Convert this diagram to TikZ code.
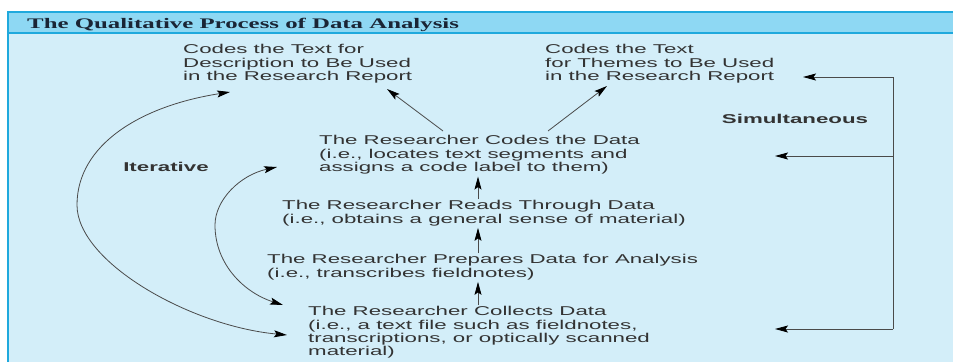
\documentclass[tikz,border=0pt]{standalone}
\usepackage{fontspec}
\setmainfont{Liberation Sans}[FakeStretch=1.74]
\newfontfamily\titlefont{Liberation Serif}[FakeStretch=1.70]
\usetikzlibrary{arrows.meta,calc}
\definecolor{titlebar}{HTML}{8ED8F3}
\definecolor{bodybg}{HTML}{D3EEF9}
\definecolor{border}{HTML}{1FA9DD}
\definecolor{titletext}{HTML}{1A2535}
\definecolor{bodytext}{HTML}{333333}
\definecolor{linec}{HTML}{4A4A4A}
\tikzset{
  txt/.style={anchor=west, align=left, inner sep=0pt, text=bodytext,
    font=\fontsize{12.8}{13.4}\selectfont},
  lbl/.style={anchor=center, inner sep=0pt, text=bodytext,
    font=\fontsize{12.8}{13.4}\selectfont\bfseries},
  tip/.tip={Stealth[length=13pt,width=7pt,inset=2.5pt,color=black]},
  arr/.style={draw=linec, line width=0.8pt, -tip},
  darr/.style={draw=linec, line width=0.8pt, tip-tip},
}
\begin{document}
\begin{tikzpicture}[x=1pt,y=-1pt]
\useasboundingbox (0,0) rectangle (953,362);
\fill[white] (0,0) rectangle (953,362);
% frame
\fill[bodybg] (8,33) rectangle (953,362);
\fill[titlebar] (8,12) rectangle (953,33);
\draw[border, line width=1.2pt] (953,33) -- (8,33);
\draw[border, line width=2pt] (953,12) -- (8,12) -- (8,362);
\node[anchor=base west, inner sep=0pt, text=titletext,
  font=\titlefont\bfseries\fontsize{14.6}{16}\selectfont] (title) at (27,28)
  {The Qualitative Process of Data Analysis};

% nodes
\node[txt] (D) at (183,64) {Codes the Text for\\Description to Be Used\\in the Research Report};
\node[txt] (T) at (545,64) {Codes the Text\\for Themes to Be Used\\in the Research Report};
\node[txt] (C) at (319,155) {The Researcher Codes the Data\\(i.e., locates text segments and\\assigns a code label to them)};
\node[txt] (R) at (282,213) {The Researcher Reads Through Data\\(i.e., obtains a general sense of material)};
\node[txt] (P) at (267,267) {The Researcher Prepares Data for Analysis\\(i.e., transcribes fieldnotes)};
\node[txt] (Co) at (308,332.5) {The Researcher Collects Data\\(i.e., a text file such as fieldnotes,\\transcriptions, or optically scanned\\material)};
\node[lbl] (it) at (166,167) {Iterative};
\node[lbl] (sim) at (795,119) {Simultaneous};

% vertical arrows
\coordinate (xa) at (478,0);
\draw[arr, shorten <=1pt, shorten >=2pt] (Co.north -| xa) -- (P.south -| xa);
\draw[arr, shorten <=1pt, shorten >=2pt] (P.north -| xa) -- (R.south -| xa);
\draw[arr, shorten <=1pt, shorten >=2pt] (R.north -| xa) -- (C.south -| xa);

% diagonal arrows
\coordinate (cd0) at (443,131);
\coordinate (cd1) at (387,89);
\coordinate (ct0) at (548,131);
\coordinate (ct1) at (607,86);
\draw[arr] (cd0) -- (cd1);
\draw[arr] (ct0) -- (ct1);

% simultaneous bracket
\coordinate (bt) at (893,77);
\coordinate (bm) at (893,156);
\coordinate (bb) at (893,329);
\coordinate (tT) at (803,77);
\coordinate (tC) at (775,156);
\coordinate (tCo) at (775,329);
\draw[draw=linec, line width=0.8pt] (bt) -- (bb);
\draw[arr] (bt) -- (tT);
\draw[arr] (bm) -- (tC);
\draw[arr] (bb) -- (tCo);

% iterative curves
\coordinate (oa) at (230,92);
\coordinate (ol) at (77,205);
\coordinate (ob) at (287,335);
\draw[darr] (oa) .. controls (140,106) and (77,145) .. (ol)
  .. controls (77,262) and (190,326) .. (ob);
\coordinate (ia) at (277,167);
\coordinate (il) at (215,225);
\coordinate (ib) at (283,305);
\draw[darr] (ia) .. controls (240,175) and (215,200) .. (il)
  .. controls (215,265) and (245,293) .. (ib);
\end{tikzpicture}
\end{document}
